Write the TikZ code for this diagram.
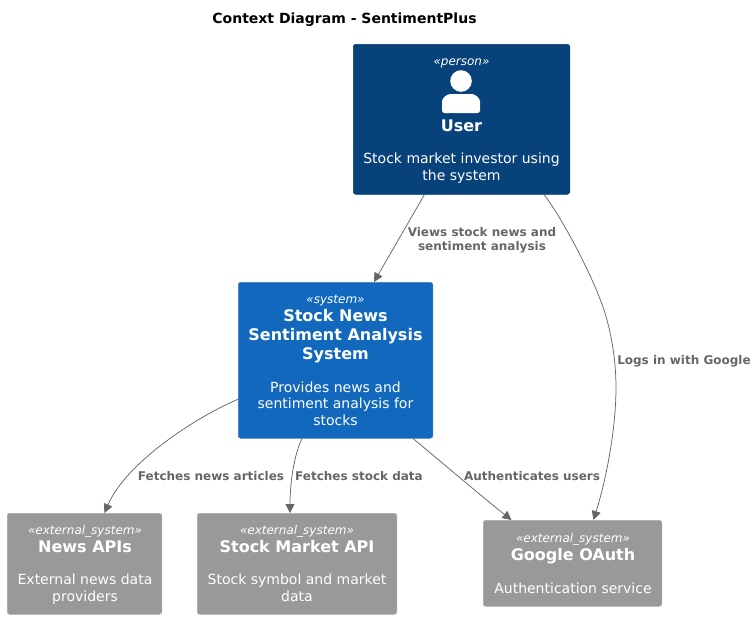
\documentclass[tikz,border=0pt]{standalone}
\usepackage{fontspec}
\setmainfont{DejaVu Sans}
\usetikzlibrary{arrows.meta,calc}
\definecolor{personfill}{HTML}{08427B}
\definecolor{personline}{HTML}{073B6F}
\definecolor{systemfill}{HTML}{1168BD}
\definecolor{systemline}{HTML}{3C7FC0}
\definecolor{extfill}{HTML}{999999}
\definecolor{extline}{HTML}{A8A8A8}
\definecolor{relcolor}{HTML}{666666}
\tikzset{
  diagbox/.style={rectangle,rounded corners=2.5pt,line width=0.5pt,inner sep=0pt,anchor=north west},
  personbox/.style={diagbox,fill=personfill,draw=personline},
  systembox/.style={diagbox,fill=systemfill,draw=systemline},
  extbox/.style={diagbox,fill=extfill,draw=extline},
  stereolbl/.style={text=white,anchor=base,inner sep=0pt,font=\fontsize{12}{14}\selectfont\itshape},
  namelbl/.style={text=white,anchor=base,inner sep=0pt,align=center,font=\fontsize{16}{19}\selectfont\bfseries},
  desclbl/.style={text=white,anchor=base,inner sep=0pt,align=center,font=\fontsize{14}{16.4}\selectfont},
  relline/.style={draw=relcolor,line width=0.75pt,-{Triangle[length=9pt,width=9pt]}},
  rellabel/.style={text=relcolor,inner sep=0pt,align=center,font=\fontsize{12}{14}\selectfont\bfseries},
}
\begin{document}
\begin{tikzpicture}[x=1pt,y=-1pt]
\useasboundingbox (0,0) rectangle (756,619);
\node[anchor=base,inner sep=0pt,font=\fontsize{14}{16}\selectfont\bfseries] (title) at (344.5,23) {Context Diagram - SentimentPlus};

\node[personbox,minimum width=216.5pt,minimum height=150pt] (user) at (353,44) {};
\node[systembox,minimum width=194.5pt,minimum height=156pt] (system) at (238,282) {};
\node[extbox,minimum width=154.5pt,minimum height=101pt] (news) at (7,513) {};
\node[extbox,minimum width=199.5pt,minimum height=101pt] (stock) at (197,513) {};
\node[extbox,minimum width=178.5pt,minimum height=86pt] (google) at (483,520) {};

% person
\node[stereolbl] (userst) at (461.5,65) {«person»};
\fill[white] (461,81) circle (10.8);
\fill[white,rounded corners=2.5pt] (442,113) -- (442,104) .. controls (442,98) and (447,94) .. (453,94) -- (469,94) .. controls (475,94) and (480,98) .. (480,104) -- (480,113) -- cycle;
\node[namelbl] (username) at (461.5,131) {User};
\node[desclbl] (userdesc) at (461.5,180) {Stock market investor using\\the system};

% system
\node[stereolbl] (sysst) at (335.5,303.5) {«system»};
\node[namelbl] (sysname) at (335.5,359) {Stock News\\Sentiment Analysis\\System};
\node[desclbl] (sysdesc) at (335.5,425) {Provides news and\\sentiment analysis for\\stocks};

% externals
\node[stereolbl] (newsst) at (85,534) {«external\_system»};
\node[namelbl] (newsname) at (85,552) {News APIs};
\node[desclbl] (newsdesc) at (85,601) {External news data\\providers};
\node[stereolbl] (stockst) at (297,534) {«external\_system»};
\node[namelbl] (stockname) at (297,552) {Stock Market API};
\node[desclbl] (stockdesc) at (297,601) {Stock symbol and market\\data};
\node[stereolbl] (googlest) at (573,542) {«external\_system»};
\node[namelbl] (googlename) at (573,560) {Google OAuth};
\node[desclbl] (googledesc) at (573,593) {Authentication service};

% connectors
\draw[relline] ([xshift=-37pt]user.south) -- ([xshift=38.5pt]system.north);
\draw[relline] ([xshift=82.5pt]user.south) .. controls (560,215) and (590,270) .. (603,307) .. controls (611,330) and (616,360) .. (616,387) .. controls (616,430) and (606,480) .. ([xshift=21pt]google.north);
\draw[relline] ([yshift=-39pt]system.west) .. controls (190,420) and (125,465) .. ([xshift=20pt]news.north);
\draw[relline] ([xshift=-33.5pt]system.south) .. controls (292,460) and (290,490) .. ([xshift=-7pt]stock.north);
\draw[relline] ([xshift=77.5pt]system.south) .. controls (445,465) and (480,495) .. ([xshift=-61pt]google.north);

% labels
\node[rellabel] (l1) at (482,240) {Views stock news and\\sentiment analysis};
\node[rellabel] (l2) at (684,361) {Logs in with Google};
\node[rellabel] (l3) at (211,476) {Fetches news articles};
\node[rellabel] (l4) at (359,476) {Fetches stock data};
\node[rellabel] (l5) at (532,476) {Authenticates users};
\end{tikzpicture}
\end{document}
